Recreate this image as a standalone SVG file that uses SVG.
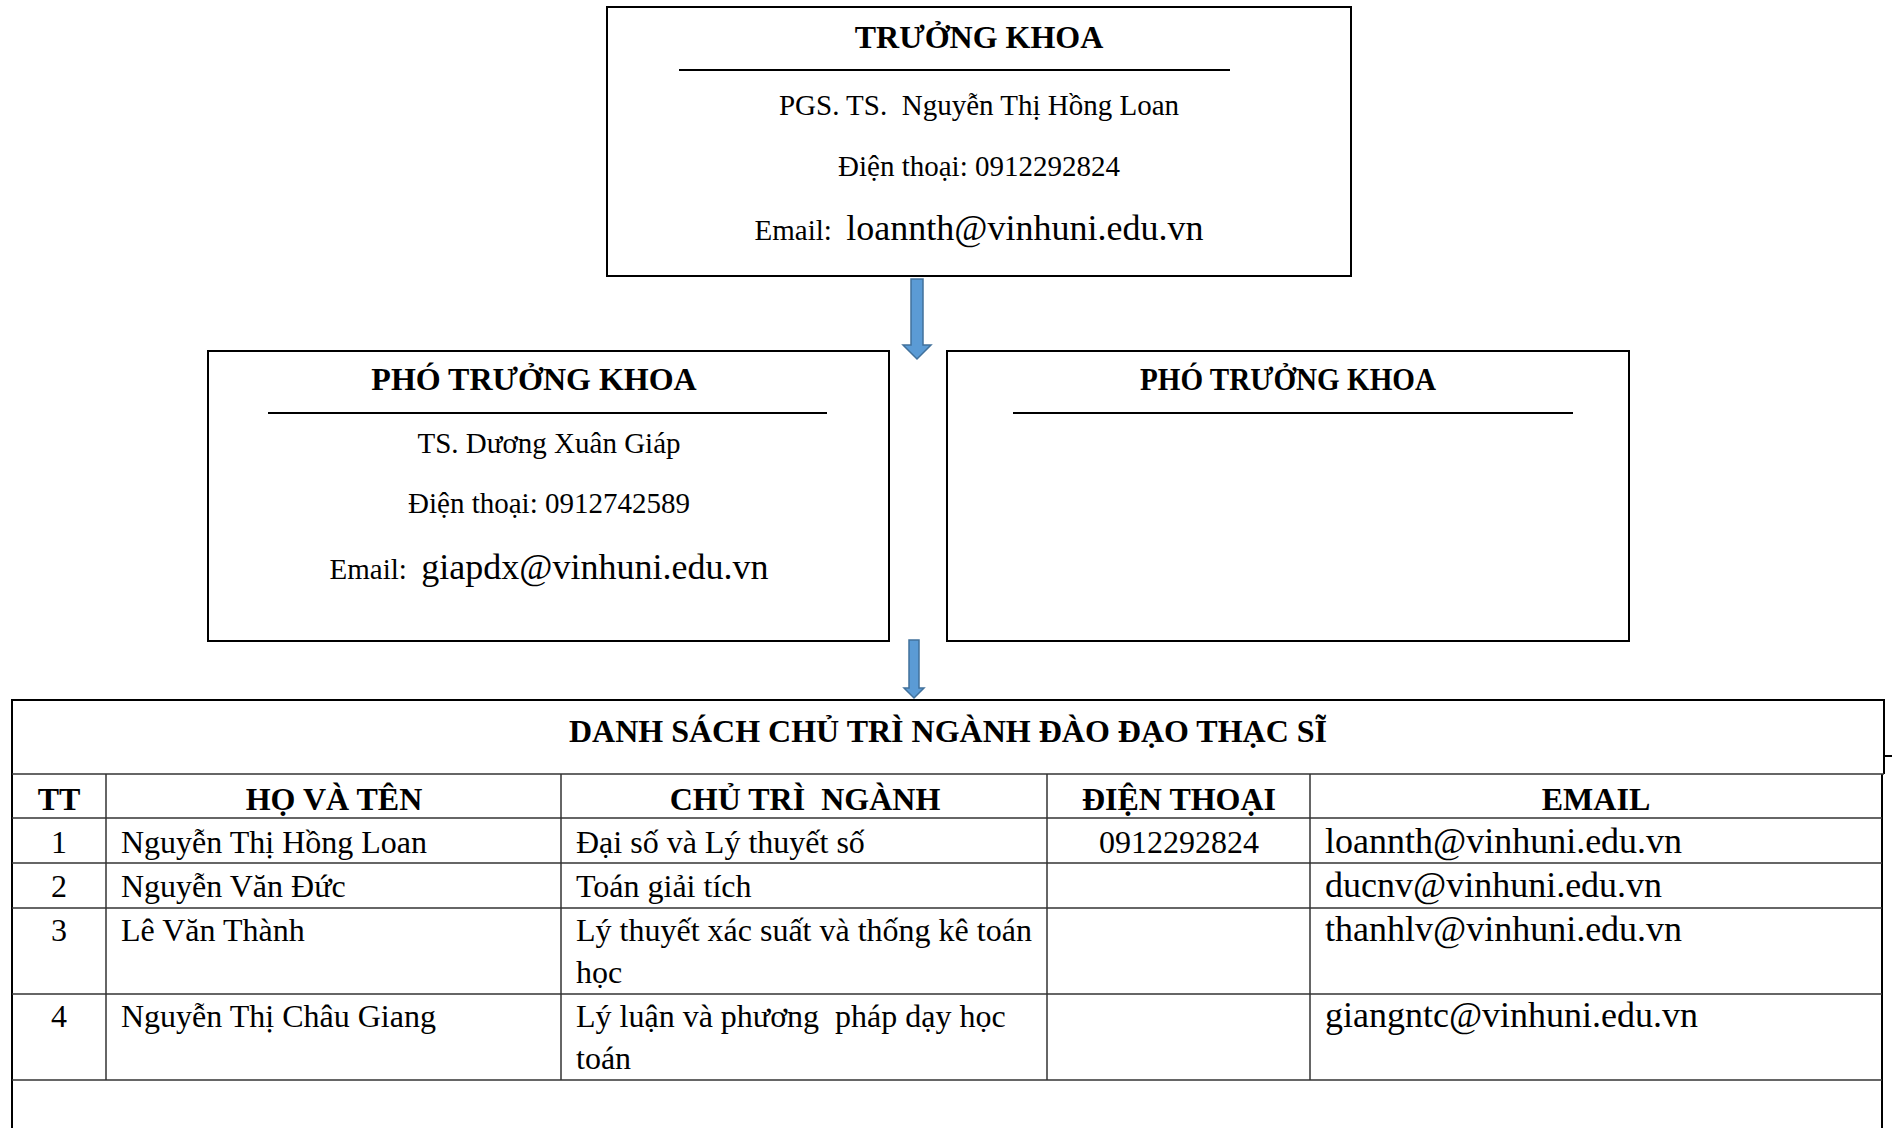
<svg xmlns="http://www.w3.org/2000/svg" width="1892" height="1128" viewBox="0 0 1892 1128">
<style>
text{font-family:"Liberation Serif","Times New Roman",serif;fill:#000}
.box{fill:#fff;stroke:#000;stroke-width:2}
.rule{stroke:#000;stroke-width:2}
.ttl{font-size:32px;font-weight:bold;text-anchor:middle}
.inf{font-size:29px;text-anchor:middle}
.big{font-size:36px}
.arrow{fill:#5B9BD5;stroke:#41719C;stroke-width:1.5}
.tl{stroke:#333;stroke-width:1.5;fill:none}
.to{stroke:#000;stroke-width:2;fill:none}
.th{font-size:32px;font-weight:bold;text-anchor:middle}
.td{font-size:32px}
.tc{font-size:32px;text-anchor:middle}
.te{font-size:36px}
</style>
<rect width="1892" height="1128" fill="#fff"/>
<g id="truong-khoa">
<rect class="box" x="607" y="7" width="744" height="269"/>
<text class="ttl" x="979" y="48">TRƯỞNG KHOA</text>
<line class="rule" x1="679" y1="70" x2="1230" y2="70"/>
<text class="inf" x="979" y="115" xml:space="preserve">PGS. TS.  Nguyễn Thị Hồng Loan</text>
<text class="inf" x="979" y="176">Điện thoại: 0912292824</text>
<text class="inf" x="979" y="240" xml:space="preserve">Email:  <tspan class="big">loannth@vinhuni.edu.vn</tspan></text>
</g>
<g id="pho-truong-khoa-1">
<rect class="box" x="208" y="351" width="681" height="290"/>
<text class="ttl" x="534" y="390">PHÓ TRƯỞNG KHOA</text>
<line class="rule" x1="268" y1="413" x2="827" y2="413"/>
<text class="inf" x="549" y="453">TS. Dương Xuân Giáp</text>
<text class="inf" x="549" y="513">Điện thoại: 0912742589</text>
<text class="inf" x="549" y="579" xml:space="preserve">Email:  <tspan class="big">giapdx@vinhuni.edu.vn</tspan></text>
</g>
<g id="pho-truong-khoa-2">
<rect class="box" x="947" y="351" width="682" height="290"/>
<text class="ttl" x="1288" y="390" textLength="296" lengthAdjust="spacingAndGlyphs">PHÓ TRƯỞNG KHOA</text>
<line class="rule" x1="1013" y1="413" x2="1573" y2="413"/>
</g>
<g id="connectors">
<polygon class="arrow" points="911,279 923,279 923,345 931,345 917,359 903,345 911,345"/>
<polygon class="arrow" points="909,640 919,640 919,688 924,688 914,698 904,688 909,688"/>
</g>
<g id="danh-sach">
<line class="to" x1="12" y1="700" x2="1884" y2="700"/>
<line class="to" x1="12" y1="699" x2="12" y2="1128"/>
<line class="to" x1="1884" y1="699" x2="1884" y2="774"/>
<line class="to" x1="1882" y1="774" x2="1882" y2="1128"/>
<line class="to" x1="1884" y1="756" x2="1892" y2="756"/>
<line class="tl" x1="12" y1="774" x2="1884" y2="774"/>
<line class="tl" x1="12" y1="818" x2="1882" y2="818"/>
<line class="tl" x1="12" y1="863" x2="1882" y2="863"/>
<line class="tl" x1="12" y1="908" x2="1882" y2="908"/>
<line class="tl" x1="12" y1="994" x2="1882" y2="994"/>
<line class="tl" x1="12" y1="1080" x2="1882" y2="1080"/>
<line class="tl" x1="106" y1="774" x2="106" y2="1080"/>
<line class="tl" x1="561" y1="774" x2="561" y2="1080"/>
<line class="tl" x1="1047" y1="774" x2="1047" y2="1080"/>
<line class="tl" x1="1310" y1="774" x2="1310" y2="1080"/>
<text class="th" x="948" y="742">DANH SÁCH CHỦ TRÌ NGÀNH ĐÀO ĐẠO THẠC SĨ</text>
<text class="th" x="59" y="810">TT</text>
<text class="th" x="334" y="810">HỌ VÀ TÊN</text>
<text class="th" x="805" y="810" xml:space="preserve">CHỦ TRÌ  NGÀNH</text>
<text class="th" x="1179" y="810">ĐIỆN THOẠI</text>
<text class="th" x="1596" y="810">EMAIL</text>
<text class="tc" x="59" y="853">1</text>
<text class="td" x="121" y="853">Nguyễn Thị Hồng Loan</text>
<text class="td" x="576" y="853">Đại số và Lý thuyết số</text>
<text class="tc" x="1179" y="853">0912292824</text>
<text class="te" x="1325" y="853">loannth@vinhuni.edu.vn</text>
<text class="tc" x="59" y="897">2</text>
<text class="td" x="121" y="897">Nguyễn Văn Đức</text>
<text class="td" x="576" y="897">Toán giải tích</text>
<text class="te" x="1325" y="897">ducnv@vinhuni.edu.vn</text>
<text class="tc" x="59" y="941">3</text>
<text class="td" x="121" y="941">Lê Văn Thành</text>
<text class="td" x="576" y="941">Lý thuyết xác suất và thống kê toán</text>
<text class="td" x="576" y="983">học</text>
<text class="te" x="1325" y="941">thanhlv@vinhuni.edu.vn</text>
<text class="tc" x="59" y="1027">4</text>
<text class="td" x="121" y="1027">Nguyễn Thị Châu Giang</text>
<text class="td" x="576" y="1027" xml:space="preserve">Lý luận và phương  pháp dạy học</text>
<text class="td" x="576" y="1069">toán</text>
<text class="te" x="1325" y="1027">giangntc@vinhuni.edu.vn</text>
</g>
</svg>
